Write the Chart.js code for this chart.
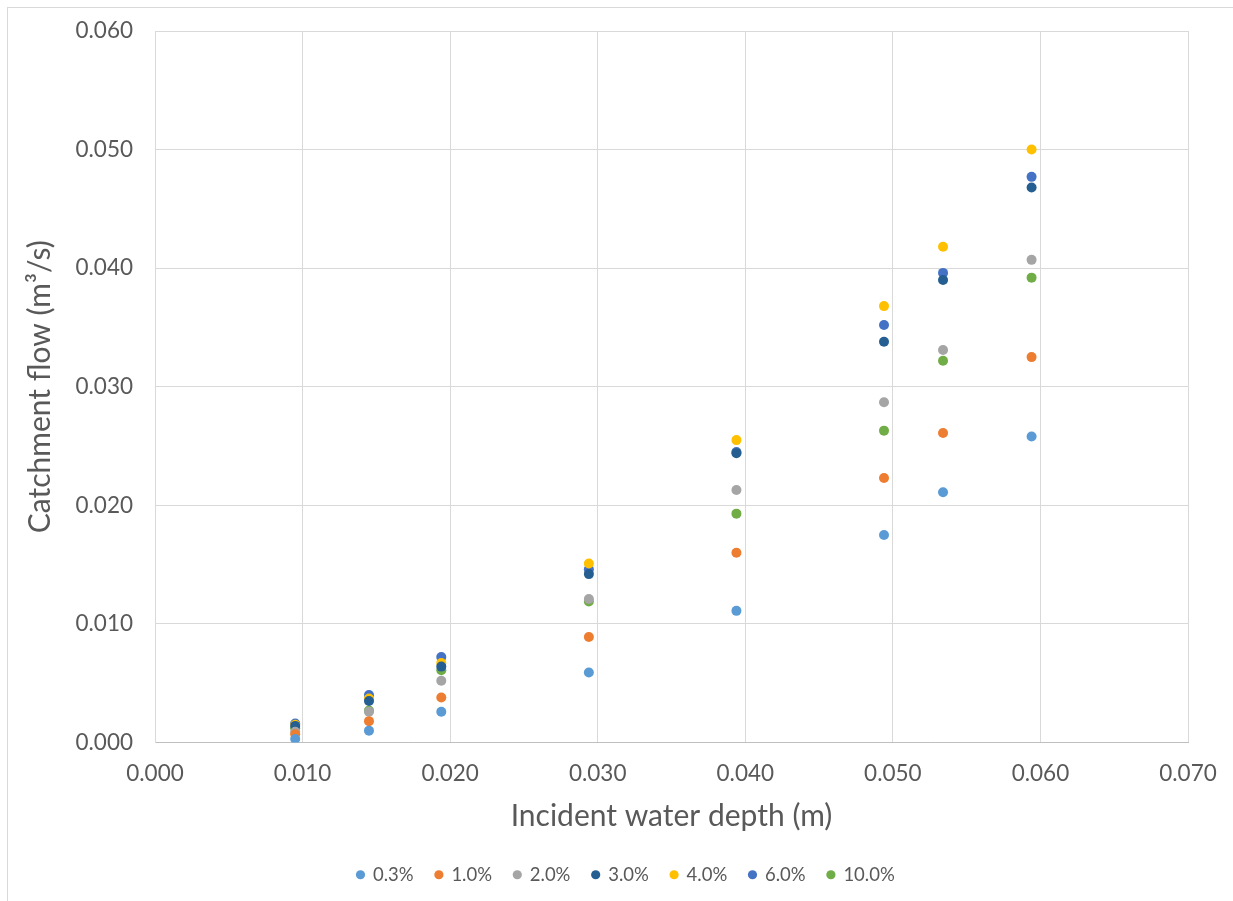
<!DOCTYPE html>
<html>
<head>
<meta charset="utf-8">
<script src="https://cdn.jsdelivr.net/npm/chart.js@4"></script>
<style>
  html, body { margin: 0; padding: 0; background: #fff; }
  #wrap { width: 1233px; height: 901px; }
</style>
</head>
<body>
<div id="wrap"><canvas id="catchmentChart" width="1233" height="901"></canvas></div>
<script>
// Incident water depth (m) for each test run
const depths = [0.0095, 0.0145, 0.0194, 0.0294, 0.0394, 0.0494, 0.0534, 0.0594];

// Catchment flow (m3/s) per longitudinal slope
const slopeLabels = ['0.3%', '1.0%', '2.0%', '3.0%', '4.0%', '6.0%', '10.0%'];
const flow03  = [0.0003, 0.0010, 0.0026, 0.0059, 0.0111, 0.0175, 0.0211, 0.0258];
const flow10  = [0.0007, 0.0018, 0.0038, 0.0089, 0.0160, 0.0223, 0.0261, 0.0325];
const flow20  = [0.0009, 0.0026, 0.0052, 0.0121, 0.0213, 0.0287, 0.0331, 0.0407];
const flow30  = [0.0014, 0.0035, 0.0064, 0.0142, 0.0244, 0.0338, 0.0390, 0.0468];
const flow40  = [0.0015, 0.0037, 0.0067, 0.0151, 0.0255, 0.0368, 0.0418, 0.0500];
const flow60  = [0.0016, 0.0040, 0.0072, 0.0146, 0.0245, 0.0352, 0.0396, 0.0477];
const flow100 = [0.0012, 0.0027, 0.0061, 0.0119, 0.0193, 0.0263, 0.0322, 0.0392];

const seriesValues = [flow03, flow10, flow20, flow30, flow40, flow60, flow100];
const seriesColors = ['#5B9BD5', '#ED7D31', '#A5A5A5', '#255E91', '#FFC000', '#4472C4', '#70AD47'];

// Axis tick values
const xTicks = [0, 0.01, 0.02, 0.03, 0.04, 0.05, 0.06, 0.07];
const yTicks = [0, 0.01, 0.02, 0.03, 0.04, 0.05, 0.06];

const datasets = slopeLabels.map((label, i) => ({
    label: label,
    data: depths.map((d, j) => ({ x: d, y: seriesValues[i][j] })),
    backgroundColor: seriesColors[i],
    borderColor: seriesColors[i],
    borderWidth: 0,
    pointRadius: 5,
    pointHoverRadius: 5
}));

// thin frame round the chart
const framePlugin = {
    id: 'frame',
    beforeDraw(chart) {
        const ctx = chart.ctx;
        ctx.save();
        ctx.fillStyle = '#ffffff';
        ctx.fillRect(0, 0, chart.width, chart.height);
        ctx.strokeStyle = '#d9d9d9';
        ctx.lineWidth = 1;
        ctx.strokeRect(7.5, 7.5, chart.width + 20, chart.height + 20);
        ctx.restore();
    }
};

// centre the legend on the whole canvas rather than on the padded box
const legendShift = {
    id: 'legendShift',
    afterLayout(chart) {
        const lg = chart.legend;
        if (!lg) return;
        lg.left += 32;
        lg.right += 32;
    }
};

const textColor = '#595959';
const fontFamily = 'Lato, "Open Sans", sans-serif';
const hidden = 'rgba(0,0,0,0)';

const ctx = document.getElementById('catchmentChart').getContext('2d');
const catchmentChart = new Chart(ctx, {
    type: 'scatter',
    data: { datasets: datasets },
    plugins: [framePlugin, legendShift],
    options: {
        responsive: false,
        animation: false,
        layout: { padding: { top: 31, right: 45, bottom: 7, left: 0 } },
        plugins: {
            legend: {
                position: 'bottom',
                labels: {
                    usePointStyle: true,
                    pointStyle: 'circle',
                    boxWidth: 6.5,
                    boxHeight: 6.5,
                    padding: 22,
                    color: textColor,
                    font: { family: fontFamily, size: 18.5 }
                }
            },
            tooltip: { enabled: false }
        },
        scales: {
            x: {
                type: 'linear',
                min: 0,
                max: 0.07,
                afterBuildTicks(scale) { scale.ticks = xTicks.map(v => ({ value: v })); },
                afterFit(scale) { scale.height = 101; },
                grid: { color: '#d9d9d9', tickColor: hidden, tickLength: 14 },
                border: { color: '#bfbfbf', width: 1 },
                ticks: {
                    padding: 4,
                    color: textColor,
                    font: { family: fontFamily, size: 22.5 },
                    maxRotation: 0,
                    callback: v => v.toFixed(3)
                },
                title: {
                    display: true,
                    text: 'Incident water depth (m)',
                    color: textColor,
                    font: { family: fontFamily, size: 30 },
                    padding: { top: 0, bottom: 9 }
                }
            },
            y: {
                type: 'linear',
                min: 0,
                max: 0.06,
                afterBuildTicks(scale) { scale.ticks = yTicks.map(v => ({ value: v })); },
                afterFit(scale) { scale.width = 155; },
                grid: { color: '#d9d9d9', tickColor: hidden, tickLength: 18 },
                border: { color: '#d9d9d9', width: 1 },
                ticks: {
                    padding: 4,
                    color: textColor,
                    font: { family: fontFamily, size: 22.5 },
                    callback: v => v.toFixed(3)
                },
                title: {
                    display: true,
                    text: 'Catchment flow (m³/s)',
                    color: textColor,
                    font: { family: fontFamily, size: 30 },
                    padding: { top: 22, bottom: 0 }
                }
            }
        }
    }
});
</script>
</body>
</html>
